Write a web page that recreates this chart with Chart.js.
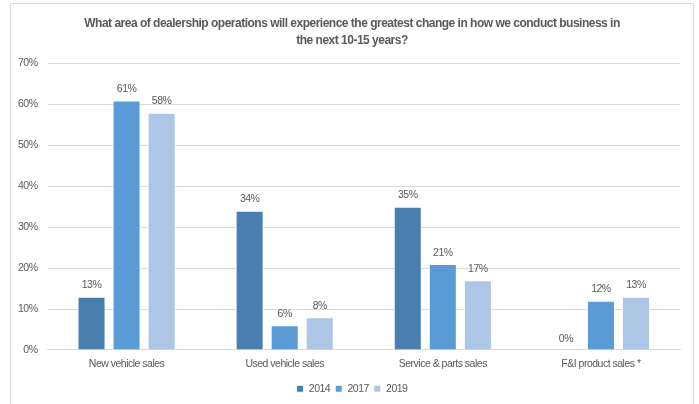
<!DOCTYPE html>
<html>
<head>
<meta charset="utf-8">
<script src="https://cdn.jsdelivr.net/npm/chart.js@4/dist/chart.umd.min.js"></script>
<style>
  html, body { margin: 0; padding: 0; background: #fff; }
  #frame {
    position: absolute; left: 10px; top: 3px; width: 684px; height: 410px;
    border: 1px solid #d9d9d9; box-sizing: border-box;
  }
  #wrap { position: absolute; left: 0; top: 0; width: 699px; height: 404px; }
</style>
</head>
<body>
<div id="frame"></div>
<div id="wrap"><canvas id="myChart"></canvas></div>
<script>
const categories = ['New vehicle sales', 'Used vehicle sales', 'Service & parts sales', 'F&I product sales *'];
const years = ['2014', '2017', '2019'];
const values2014 = [13, 34, 35, 0];
const values2017 = [61, 6, 21, 12];
const values2019 = [58, 8, 17, 13];
const colors = ['#4a7db0', '#5b9bd5', '#adc6e6'];
const titleLines = [
  'What area of dealership operations will experience the greatest change in how we conduct business in',
  'the next 10-15 years?'
];

const FONT = "'Liberation Sans', Arial, sans-serif";
const GREY = '#595959';
const SIZE = 10.5;

// tighter letter spacing so the text runs narrow; the canvas state is
// reset on resize, so set it again before layout and before drawing
const narrowText = {
  id: 'narrowText',
  beforeUpdate(chart) { chart.ctx.letterSpacing = '-0.5px'; },
  beforeLayout(chart) { chart.ctx.letterSpacing = '-0.5px'; },
  beforeDraw(chart) { chart.ctx.letterSpacing = '-0.5px'; }
};

// centre title and legend a little right of the canvas middle
const shiftBlocks = {
  id: 'shiftBlocks',
  afterLayout(chart) {
    [chart.titleBlock, chart.legend].forEach(b => {
      if (b) { b.left += 8; b.right += 8; }
    });
  }
};

// percentage labels above each bar
const valueLabels = {
  id: 'valueLabels',
  afterDatasetsDraw(chart) {
    const ctx = chart.ctx;
    ctx.save();
    ctx.font = SIZE + 'px ' + FONT;
    ctx.fillStyle = GREY;
    ctx.textAlign = 'center';
    ctx.textBaseline = 'bottom';
    chart.data.datasets.forEach((ds, i) => {
      chart.getDatasetMeta(i).data.forEach((bar, j) => {
        ctx.fillText(ds.data[j] + '%', bar.x, bar.y - 6);
      });
    });
    ctx.restore();
  }
};

const ctx = document.getElementById('myChart').getContext('2d');
new Chart(ctx, {
  type: 'bar',
  data: {
    labels: categories,
    datasets: [values2014, values2017, values2019].map((d, i) => ({
      label: years[i],
      data: d,
      backgroundColor: colors[i],
      borderColor: '#ffffff',
      borderWidth: 1,
      barPercentage: 0.8,
      categoryPercentage: 0.665
    }))
  },
  options: {
    animation: false,
    responsive: true,
    maintainAspectRatio: false,
    layout: { padding: { left: 8, right: 19, top: 9, bottom: 0 } },
    plugins: {
      title: {
        display: true,
        text: titleLines,
        color: GREY,
        font: { family: FONT, size: 12, weight: 'bold', lineHeight: 1.4 },
        padding: { top: 6, bottom: 15 }
      },
      legend: {
        position: 'bottom',
        labels: {
          color: GREY,
          boxWidth: 7,
          boxHeight: 7,
          padding: 5,
          font: { family: FONT, size: SIZE }
        }
      },
      tooltip: { enabled: false }
    },
    scales: {
      x: {
        grid: { display: false },
        border: { color: '#d9d9d9' },
        ticks: { color: GREY, font: { family: FONT, size: SIZE }, padding: 0 },
        afterFit(axis) { axis.height += 8; }
      },
      y: {
        min: 0,
        max: 70,
        grid: { color: '#d9d9d9', drawTicks: false },
        border: { display: false },
        ticks: {
          stepSize: 10,
          color: GREY,
          font: { family: FONT, size: SIZE },
          padding: 10,
          callback: v => v + '%'
        }
      }
    }
  },
  plugins: [narrowText, shiftBlocks, valueLabels]
});
</script>
</body>
</html>
